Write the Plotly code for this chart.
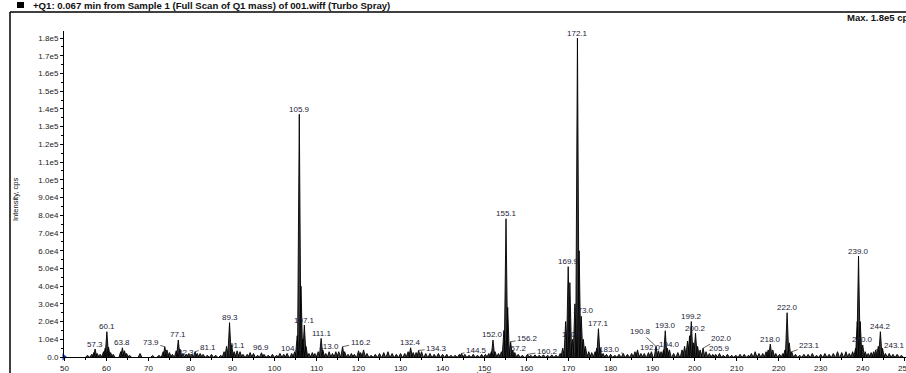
import plotly.graph_objects as go

# ---------------- data ----------------
peak_mz = [
    55.5, 56.5, 57.0, 57.3, 57.8, 58.5, 59.3, 59.7, 60.1, 60.5, 61.0, 61.6, 63.4, 63.8, 64.3, 64.8, 65.5, 68.0,
    71.0, 72.5, 73.5, 73.9, 74.4, 75.0, 75.7, 76.6, 77.1, 77.5, 78.2, 79.0, 79.6, 80.3, 81.1, 81.6, 82.3, 83.0,
    84.0, 85.0, 86.0, 87.2, 88.0, 88.6, 89.3, 89.8, 90.4, 91.1, 91.8, 92.5, 93.5, 94.2, 95.0, 96.0, 96.9, 97.5,
    98.5, 99.5, 100.5, 101.3, 102.2, 103.0, 104.1, 104.8, 105.4, 105.9, 106.3, 106.7, 107.1, 107.5, 108.2, 109.0,
    109.6, 110.4, 111.1, 111.5, 112.2, 113.0, 113.8, 114.6, 115.3, 116.2, 116.7, 117.5, 118.3, 119.0, 120.0, 120.5,
    121.2, 122.0, 123.0, 124.0, 125.0, 126.0, 127.0, 128.0, 129.0, 130.0, 131.0, 131.8, 132.4, 133.0, 133.7, 134.3,
    135.0, 136.0, 137.0, 138.0, 139.0, 140.0, 141.0, 142.0, 143.0, 144.0, 144.5, 145.3, 146.3, 147.3, 148.3, 149.3,
    150.2, 151.0, 151.6, 152.0, 152.5, 153.3, 154.0, 154.6, 155.1, 155.5, 156.2, 156.7, 157.2, 158.0, 159.0, 160.2,
    161.0, 162.0, 163.0, 164.0, 165.0, 166.0, 167.0, 168.0, 168.6, 169.3, 169.9, 170.3, 170.9, 171.5, 172.1, 172.5,
    173.0, 173.5, 174.0, 174.8, 175.5, 176.3, 176.7, 177.1, 177.5, 178.2, 179.0, 180.0, 181.0, 182.0, 183.0, 184.0,
    185.0, 185.8, 186.4, 187.2, 188.0, 189.0, 189.7, 190.8, 191.4, 192.0, 192.6, 193.0, 193.5, 194.0, 195.0, 196.0,
    197.0, 197.6, 198.3, 198.8, 199.2, 199.7, 200.2, 200.7, 201.3, 202.0, 202.7, 203.5, 204.3, 205.0, 205.9, 206.8,
    207.8, 208.8, 209.8, 210.8, 211.8, 212.8, 213.5, 214.4, 215.3, 216.2, 217.0, 217.5, 218.0, 218.6, 219.3, 220.2,
    221.0, 221.5, 222.0, 222.5, 223.1, 224.0, 225.0, 226.0, 227.0, 228.0, 229.0, 230.0, 231.0, 232.0, 233.0, 234.0,
    235.0, 236.0, 236.8, 237.6, 238.3, 238.7, 239.0, 239.4, 240.0, 240.6, 241.3, 242.0, 242.6, 243.1, 243.7, 244.2,
    244.7, 245.4, 246.3, 247.2, 248.2, 249.2,
]
peak_int = [
    1000, 1500, 2500, 4500, 2000, 1500, 3000, 5000, 14300, 5500, 2500, 1500, 3000, 5200, 3500, 2000, 1000, 2000,
    800, 1000, 3000, 5800, 4000, 2500, 1500, 3500, 9600, 4500, 2000, 1500, 2000, 1500, 3000, 2000, 2000, 1500,
    1000, 1500, 1000, 1000, 3000, 6000, 19400, 7000, 3000, 3500, 3000, 1500, 1500, 2500, 2000, 1000, 2400, 1500,
    1000, 1500, 1000, 2000, 1500, 2000, 2000, 3000, 12000, 137000, 40000, 10000, 18000, 6000, 2000, 2500,
    2000, 3000, 10500, 4000, 2000, 3000, 2000, 3000, 3000, 5800, 3000, 1500, 2000, 1500, 3500, 2500,
    4000, 2000, 1000, 1500, 2000, 2500, 3000, 2000, 1500, 2000, 2000, 3000, 5200, 2500, 2500, 3700,
    3000, 2000, 2000, 1500, 2000, 1500, 1500, 1000, 1000, 1500, 2000, 1500, 1000, 1500, 1000, 1500,
    1500, 2000, 3000, 9600, 3000, 2000, 3000, 15000, 78000, 28000, 8600, 4000, 2500, 1500, 1000, 1500,
    1000, 1200, 1000, 1200, 1000, 1200, 1000, 2000, 5000, 20000, 51000, 42000, 10000, 30000, 180000, 60000,
    23000, 10000, 6000, 3000, 2500, 3000, 5000, 16000, 5000, 2000, 1500, 1500, 1000, 1500, 2000, 1500,
    2000, 3000, 4000, 2000, 2000, 2500, 3000, 6000, 3500, 3000, 4000, 14800, 5000, 4000, 2000, 2500,
    4000, 6000, 9000, 12000, 20000, 8000, 13500, 6000, 4000, 5000, 3000, 2000, 1500, 1500, 2000, 1000,
    1500, 1000, 1000, 1500, 1500, 1000, 2000, 3000, 2000, 2000, 3000, 4000, 7300, 4000, 2000, 1500,
    2000, 4000, 25000, 8000, 3000, 1500, 1000, 1500, 1500, 2000, 1000, 1500, 2000, 1500, 2000, 3000,
    2500, 3000, 2000, 3000, 5000, 20000, 57000, 20000, 6800, 3000, 2000, 2500, 3000, 4000, 6000, 14300,
    5000, 2000, 2000, 1500, 1500, 1000,
]
label_mz = [
    57.3, 60.1, 63.8, 73.9, 77.1, 81.1, 82.3, 89.3, 91.1, 96.9, 104.1, 105.9, 107.1, 111.1, 113.0, 116.2,
    132.4, 134.3, 144.5, 152.0, 155.1, 156.2, 157.2, 160.2, 169.9, 170.9, 172.1, 173.0, 177.1, 183.0,
    190.8, 192.0, 193.0, 194.0, 199.2, 200.2, 202.0, 205.9, 218.0, 222.0, 223.1, 239.0, 240.0, 243.1, 244.2,
]
y_tick_vals = [0, 1e4, 2e4, 3e4, 4e4, 5e4, 6e4, 7e4, 8e4, 9e4, 1e5, 1.1e5, 1.2e5, 1.3e5, 1.4e5, 1.5e5, 1.6e5, 1.7e5, 1.8e5]
y_tick_text = ["0.0", "1.0e4", "2.0e4", "3.0e4", "4.0e4", "5.0e4", "6.0e4", "7.0e4", "8.0e4", "9.0e4",
               "1.0e5", "1.1e5", "1.2e5", "1.3e5", "1.4e5", "1.5e5", "1.6e5", "1.7e5", "1.8e5"]
x_tick_vals = [50, 60, 70, 80, 90, 100, 110, 120, 130, 140, 150, 160, 170, 180, 190, 200, 210, 220, 230, 240, 250]
header_text = "+Q1: 0.067 min from Sample 1 (Full Scan of Q1 mass) of 001.wiff (Turbo Spray)"
max_text = "Max. 1.8e5 cps"
x_title = "m/z, Da"
y_title = "Intensity, cps"

# ---------------- layout / style ----------------
W, H = 906, 373
ML, MR, MT, MB = 64, 0, 31, 16
X_RANGE = [49.9, 250.3]
Y_RANGE = [0, 184000]
HALF_W = 0.42
FONT = "Liberation Sans, Arial, sans-serif"
TXT = "#1a1a1a"
LBL = "#1c1c38"

# label placement: (dx px, dy px of label center relative to peak top, leader line?)
LABEL_PLACE = {
    73.9: (-14, -4, True), 81.1: (13, -4, True), 82.3: (-14, -1, False),
    116.2: (18, -4, True), 134.3: (18, -2, True), 144.5: (15, -3, True),
    156.2: (17, -3, True), 157.2: (2, -4, False), 160.2: (20, -3, True),
    183.0: (-14, -4, True), 190.8: (-16, -15, True), 192.0: (-11, -4, False),
    202.0: (18, -10, True), 223.1: (18, -6, True), 243.1: (19, -4, True),
    173.0: (2, -6, False),
}

PW = W - ML - MR
PH = H - MT - MB


def px(x):
    return (x - ML) / PW


def py(y):
    return (H - MB - y) / PH


# spectrum as narrow filled peaks
xs, ys = [], []
for m, v in zip(peak_mz, peak_int):
    xs += [m - HALF_W, m, m + HALF_W, None]
    ys += [0, v, 0, None]

fig = go.Figure()
fig.add_trace(go.Scatter(
    x=xs, y=ys, mode="lines", fill="toself", fillcolor="#3a3a3a",
    line=dict(color="#000", width=0.9), hoverinfo="skip", showlegend=False,
))
fig.add_trace(go.Scatter(
    x=[X_RANGE[0]], y=[0], mode="markers", cliponaxis=False,
    marker=dict(symbol="triangle-right", size=6, color="#1530d0"),
    showlegend=False, hoverinfo="skip",
))

height_of = dict(zip(peak_mz, peak_int))
ann = []
for m in label_mz:
    v = height_of[m]
    dx, dy, leader = LABEL_PLACE.get(m, (0, -5, False))
    if leader:
        ann.append(dict(x=m, y=v, xref="x", yref="y", text=f"{m:.1f}", showarrow=True,
                        ax=dx, ay=dy, axref="pixel", ayref="pixel", arrowhead=0, arrowwidth=0.7,
                        arrowcolor="#222", standoff=0, startstandoff=0,
                        font=dict(family=FONT, size=8, color=LBL)))
    else:
        ann.append(dict(x=m, y=v, xref="x", yref="y", text=f"{m:.1f}", showarrow=False,
                        xshift=dx, yshift=-dy, yanchor="middle", xanchor="center",
                        font=dict(family=FONT, size=8, color=LBL)))

# header / frame texts
ann.append(dict(x=px(31), y=py(5), xref="paper", yref="paper", text="<b>" + header_text + "</b>",
                showarrow=False, xanchor="left", yanchor="middle",
                font=dict(family=FONT, size=9.6, color="#111")))
ann.append(dict(x=px(845), y=py(17), xref="paper", yref="paper", text="<b>" + max_text + "</b>",
                showarrow=False, xanchor="left", yanchor="middle",
                font=dict(family=FONT, size=9.5, color="#111")))
ann.append(dict(x=px(15), y=py(200), xref="paper", yref="paper", text=y_title, textangle=-90,
                showarrow=False, xanchor="center", yanchor="middle",
                font=dict(family=FONT, size=7.5, color="#111")))
ann.append(dict(x=px(483), y=py(367.5), xref="paper", yref="paper", text=x_title,
                showarrow=False, xanchor="center", yanchor="top",
                font=dict(family=FONT, size=8, color="#111")))

shapes = [
    dict(type="line", xref="paper", yref="paper", x0=px(10), x1=px(10), y0=py(12), y1=py(373),
         line=dict(color="#000", width=1.5)),
    dict(type="line", xref="paper", yref="paper", x0=px(10), x1=px(906), y0=py(12), y1=py(12),
         line=dict(color="#000", width=1.5)),
    dict(type="rect", xref="paper", yref="paper", x0=px(17), x1=px(24), y0=py(2), y1=py(8),
         fillcolor="#000", line=dict(width=0)),
]

fig.update_layout(
    width=W, height=H, margin=dict(l=ML, r=MR, t=MT, b=MB, autoexpand=False),
    paper_bgcolor="white", plot_bgcolor="white", showlegend=False,
    annotations=ann, shapes=shapes,
    xaxis=dict(range=X_RANGE, tickmode="array", tickvals=x_tick_vals, showgrid=False, zeroline=False,
               showline=True, linecolor="#000", linewidth=1, ticks="outside", ticklen=3, tickcolor="#000",
               ticklabeloverflow="allow",
               tickfont=dict(family=FONT, size=8, color=TXT),
               minor=dict(tickmode="linear", tick0=50, dtick=5, ticks="outside", ticklen=2, tickcolor="#000")),
    yaxis=dict(range=Y_RANGE, tickmode="array", tickvals=y_tick_vals, ticktext=y_tick_text, showgrid=False,
               zeroline=False, showline=True, linecolor="#000", linewidth=1, ticks="outside", ticklen=3,
               tickcolor="#000", tickfont=dict(family=FONT, size=8, color=TXT),
               minor=dict(tickmode="linear", tick0=0, dtick=5000, ticks="outside", ticklen=2, tickcolor="#000")),
)

fig.write_html("out.html", config={"displayModeBar": False},
               post_script="document.body.style.margin='0';document.body.style.overflow='hidden';")
